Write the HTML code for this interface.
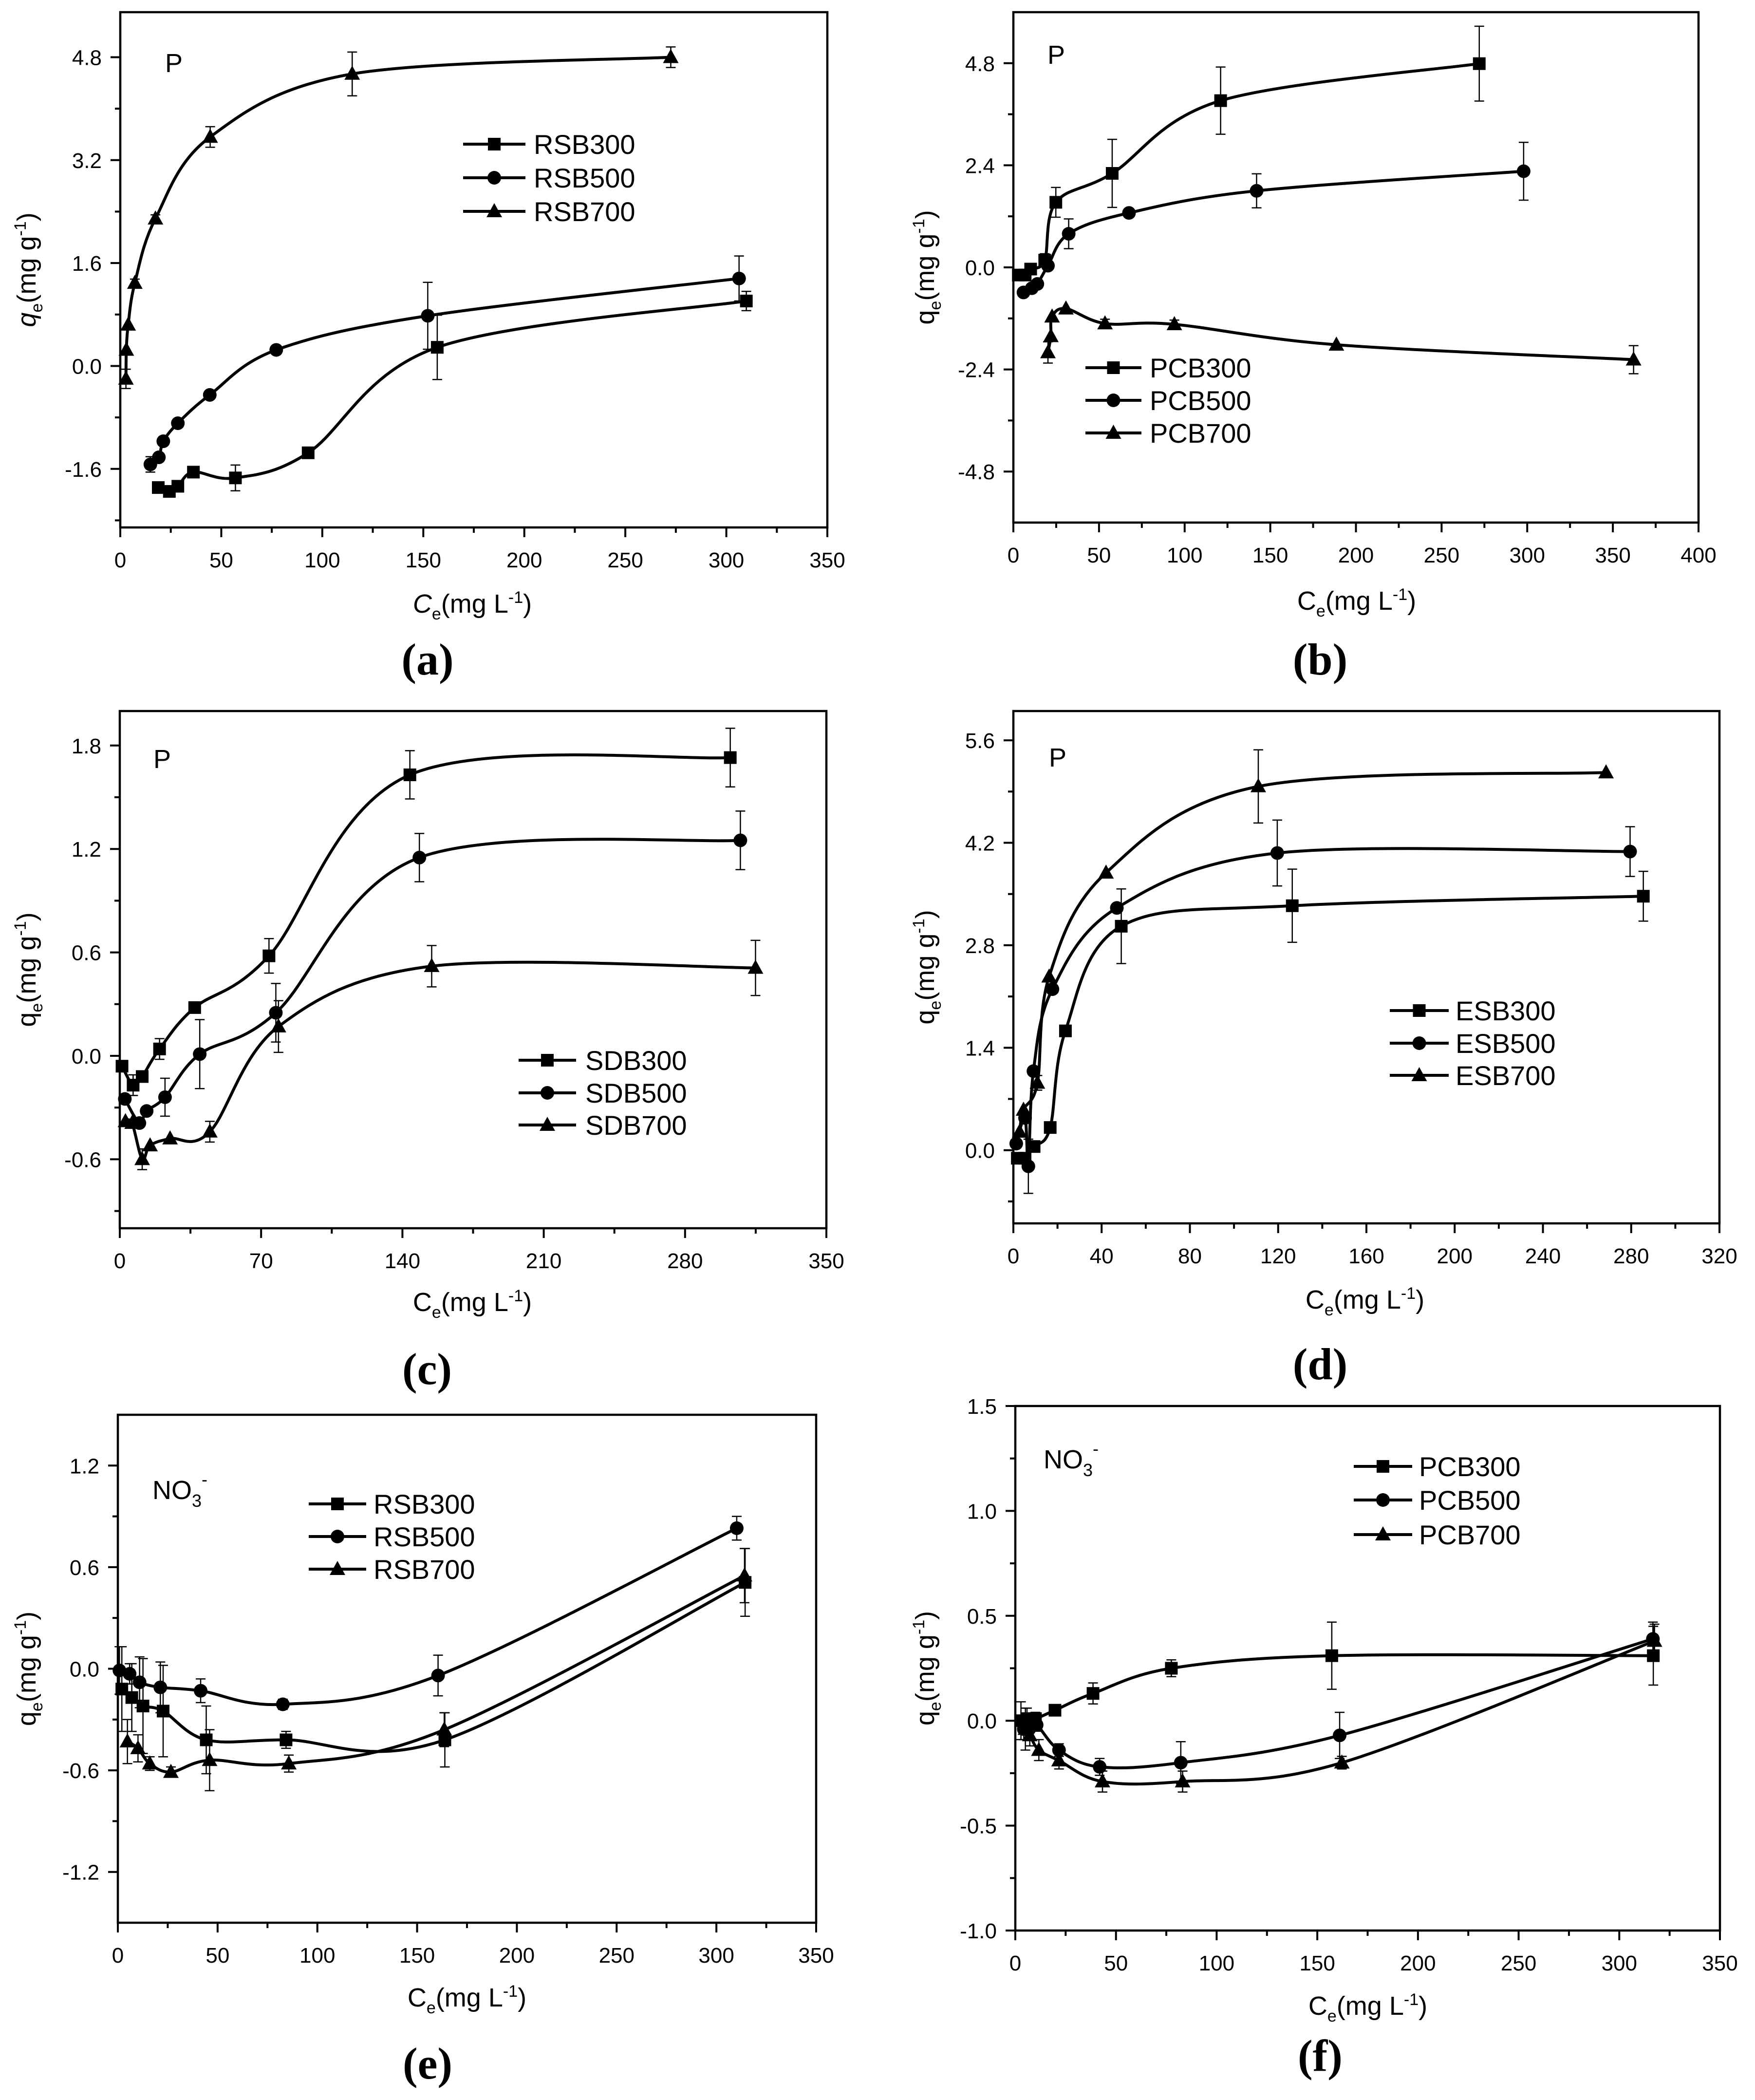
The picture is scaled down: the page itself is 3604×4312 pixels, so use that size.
<!DOCTYPE html>
<html><head><meta charset="utf-8"><style>
html,body{margin:0;padding:0;background:#fff;}
svg{display:block;font-family:"Liberation Sans",Arial,sans-serif;}
</style></head><body>
<svg id="fig" xmlns="http://www.w3.org/2000/svg" width="3604" height="4312" viewBox="0 0 3604 4312">
<rect x="0" y="0" width="3604" height="4312" fill="#fff"/>
</svg>
<script>
// ---------- DATA ----------
const aRSB300_x=[18.8,24.3,28.5,36.2,57,93,156.9,309.9];
const aRSB300_y=[-1.89,-1.95,-1.87,-1.65,-1.74,-1.35,0.29,1.01];
const aRSB300_e=[0,0,0,0,0.2,0,0.5,0.15];
const aRSB500_x=[14.9,19.1,21.3,28.5,44.3,77.2,152.2,306.3];
const aRSB500_y=[-1.53,-1.42,-1.17,-0.89,-0.45,0.25,0.78,1.36];
const aRSB500_e=[0.12,0,0,0,0,0,0.52,0.35];
const aRSB700_x=[2.8,3,3.9,7.2,17.4,44.5,114.8,272.5];
const aRSB700_y=[-0.2,0.25,0.64,1.29,2.29,3.56,4.54,4.8];
const aRSB700_e=[0.15,0,0,0.06,0.06,0.16,0.34,0.16];
const bPCB300_x=[2.9,6.9,10.1,18.3,24.8,57.7,121,272];
const bPCB300_y=[-0.18,-0.18,-0.04,0.17,1.53,2.21,3.92,4.79];
const bPCB300_e=[0,0,0,0.15,0.35,0.8,0.79,0.88];
const bPCB500_x=[5.9,10.8,14,20.2,32.3,67.5,142,297.9];
const bPCB500_y=[-0.59,-0.49,-0.39,0.04,0.79,1.28,1.8,2.26];
const bPCB500_e=[0,0,0,0,0.35,0,0.4,0.68];
const bPCB700_x=[20.2,21.9,22.6,30.7,53.5,94,188.6,362.1];
const bPCB700_y=[-2.0,-1.62,-1.16,-0.97,-1.32,-1.34,-1.82,-2.17];
const bPCB700_e=[0.25,0,0,0,0.1,0.1,0,0.33];
const cSDB300_x=[1.1,6.6,11.1,19.7,37.1,73.9,143.7,302.4];
const cSDB300_y=[-0.06,-0.17,-0.12,0.04,0.28,0.58,1.63,1.73];
const cSDB300_e=[0,0.06,0,0.06,0,0.1,0.14,0.17];
const cSDB500_x=[2.5,9.7,13.3,22.4,39.6,77.3,148.4,307.4];
const cSDB500_y=[-0.25,-0.39,-0.32,-0.24,0.01,0.25,1.15,1.25];
const cSDB500_e=[0,0,0,0.11,0.2,0.17,0.14,0.17];
const cSDB700_x=[2.8,6.1,11.1,15,24.9,44.6,78.6,154.5,314.9];
const cSDB700_y=[-0.38,-0.39,-0.6,-0.52,-0.48,-0.44,0.17,0.52,0.51];
const cSDB700_e=[0,0,0.06,0,0,0.06,0.15,0.12,0.16];
const dESB300_x=[1.8,5.3,9.4,16.7,23.6,48.9,126.4,285.5];
const dESB300_y=[-0.11,-0.11,0.05,0.31,1.63,3.06,3.34,3.47];
const dESB300_e=[0,0,0,0,0,0.51,0.5,0.34];
const dESB500_x=[1.3,5.3,6.8,9.1,17.7,46.9,119.6,279.5];
const dESB500_y=[0.09,0.44,-0.22,1.08,2.2,3.31,4.06,4.08];
const dESB500_e=[0,0,0.37,0,0,0,0.45,0.34];
const dESB700_x=[2.8,4.6,10.9,16.2,42,111,268.6];
const dESB700_y=[0.25,0.55,0.92,2.37,3.79,4.97,5.16];
const dESB700_e=[0,0,0.1,0,0,0.5,0];
const eRSB300_x=[2,7,12.6,22.7,44.3,84.3,163.9,314.4];
const eRSB300_y=[-0.12,-0.17,-0.22,-0.25,-0.42,-0.42,-0.42,0.51];
const eRSB300_e=[0.25,0.2,0.28,0.27,0.2,0.05,0.16,0.2];
const eRSB500_x=[0.8,5.9,10.9,21.3,41.5,82.7,160.5,310.2];
const eRSB500_y=[-0.01,-0.03,-0.08,-0.11,-0.13,-0.21,-0.04,0.83];
const eRSB500_e=[0.14,0.06,0.15,0.15,0.07,0.03,0.12,0.07];
const eRSB700_x=[4.8,10.1,16,26.6,46,85.7,163.6,314.1];
const eRSB700_y=[-0.43,-0.47,-0.56,-0.61,-0.54,-0.56,-0.36,0.55];
const eRSB700_e=[0.13,0.08,0.04,0.03,0.18,0.05,0.1,0.16];
const fPCB300_x=[2.8,5.8,10,19.7,38.6,77.5,157.2,316.9];
const fPCB300_y=[0,0.01,0.01,0.05,0.13,0.25,0.31,0.31];
const fPCB300_e=[0.09,0.05,0.03,0,0.05,0.04,0.16,0.14];
const fPCB500_x=[4.2,6.9,10.6,21.7,41.9,82.2,161.1,316.7];
const fPCB500_y=[-0.04,-0.04,-0.02,-0.14,-0.22,-0.2,-0.07,0.39];
const fPCB500_e=[0.05,0.05,0.03,0.03,0.04,0.1,0.11,0.08];
const fPCB700_x=[5,7.2,11.7,21.7,43.3,83.1,162.2,317.5];
const fPCB700_y=[-0.04,-0.07,-0.14,-0.19,-0.29,-0.29,-0.2,0.38];
const fPCB700_e=[0.1,0.05,0.05,0.04,0.05,0.05,0.03,0.08];

const aYTicks=[-1.6,0,1.6,3.2,4.8];
const bYTicks=[-4.8,-2.4,0,2.4,4.8];
const cYTicks=[-0.6,0,0.6,1.2,1.8];
const dYTicks=[0,1.4,2.8,4.2,5.6];
const eYTicks=[-1.2,-0.6,0,0.6,1.2];
const fYTicks=[-1.0,-0.5,0,0.5,1.0,1.5];
const aXTicks=[0,50,100,150,200,250,300,350];
const bXTicks=[0,50,100,150,200,250,300,350,400];
const cXTicks=[0,70,140,210,280,350];
const dXTicks=[0,40,80,120,160,200,240,280,320];

const NS="http://www.w3.org/2000/svg";
const svg=document.getElementById('fig');
function mk(tag,attrs,parent){const e=document.createElementNS(NS,tag);for(const k in attrs)e.setAttribute(k,attrs[k]);(parent||svg).appendChild(e);return e;}

const panels=[
 {id:'a',box:[247,25,1699,1083],x:[0,350],y:[-2.51,5.5],xt:aXTicks,xminor:25,yt:aYTicks,ystep:0.8,dec:1,
  italic:true,yTitleX:55,xTitle:[970,1240],lab:[878,1385,'(a)'],tag:[359,128,'P'],
  leg:{lx:951,rx:1079,tx:1096,ys:[296,365,434]},
  series:[['RSB300',aRSB300_x,aRSB300_y,aRSB300_e,'sq'],['RSB500',aRSB500_x,aRSB500_y,aRSB500_e,'ci'],['RSB700',aRSB700_x,aRSB700_y,aRSB700_e,'tr']]},
 {id:'b',box:[2081,25,3488,1073],x:[0,400],y:[-6,6],xt:bXTicks,xminor:25,yt:bYTicks,ystep:1.2,dec:1,
  italic:false,yTitleX:1900,xTitle:[2786,1234],lab:[2711,1385,'(b)'],tag:[2171,111,'P'],
  leg:{lx:2229,rx:2344,tx:2361,ys:[755,822,889]},
  series:[['PCB300',bPCB300_x,bPCB300_y,bPCB300_e,'sq'],['PCB500',bPCB500_x,bPCB500_y,bPCB500_e,'ci'],['PCB700',bPCB700_x,bPCB700_y,bPCB700_e,'tr']]},
 {id:'c',box:[246,1460,1697,2522],x:[0,350],y:[-1.0,2.0],xt:cXTicks,xminor:35,yt:cYTicks,ystep:0.3,dec:1,
  italic:false,yTitleX:55,xTitle:[970,2674],lab:[877,2842,'(c)'],tag:[335,1557,'P'],
  leg:{lx:1065,rx:1183,tx:1202,ys:[2177,2244,2310]},
  series:[['SDB300',cSDB300_x,cSDB300_y,cSDB300_e,'sq'],['SDB500',cSDB500_x,cSDB500_y,cSDB500_e,'ci'],['SDB700',cSDB700_x,cSDB700_y,cSDB700_e,'tr']]},
 {id:'d',box:[2081,1460,3531,2512],x:[0,320],y:[-1.0,6.0],xt:dXTicks,xminor:20,yt:dYTicks,ystep:0.7,dec:1,
  italic:false,yTitleX:1900,xTitle:[2803,2669],lab:[2711,2832,'(d)'],tag:[2174,1554,'P'],
  leg:{lx:2854,rx:2975,tx:2989,ys:[2075,2142,2208]},
  series:[['ESB300',dESB300_x,dESB300_y,dESB300_e,'sq'],['ESB500',dESB500_x,dESB500_y,dESB500_e,'ci'],['ESB700',dESB700_x,dESB700_y,dESB700_e,'tr']]},
 {id:'e',box:[242,2905,1676,3948],x:[0,350],y:[-1.5,1.5],xt:aXTicks,xminor:25,yt:eYTicks,ystep:0.3,dec:1,
  italic:false,yTitleX:55,xTitle:[959,4102],lab:[878,4268,'(e)'],tag:[333,3058,'NO'],
  leg:{lx:634,rx:752,tx:767,ys:[3088,3155,3222]},
  series:[['RSB300',eRSB300_x,eRSB300_y,eRSB300_e,'sq'],['RSB500',eRSB500_x,eRSB500_y,eRSB500_e,'ci'],['RSB700',eRSB700_x,eRSB700_y,eRSB700_e,'tr']]},
 {id:'f',box:[2085,2887,3532,3964],x:[0,350],y:[-1.0,1.5],xt:aXTicks,xminor:25,yt:fYTicks,ystep:0.25,dec:1,
  italic:false,yTitleX:1900,xTitle:[2809,4119],lab:[2711,4252,'(f)'],tag:[2163,2995,'NO'],
  leg:{lx:2780,rx:2900,tx:2914,ys:[3011,3080,3151]},
  series:[['PCB300',fPCB300_x,fPCB300_y,fPCB300_e,'sq'],['PCB500',fPCB500_x,fPCB500_y,fPCB500_e,'ci'],['PCB700',fPCB700_x,fPCB700_y,fPCB700_e,'tr']]}
];

function sx(p,v){return p.box[0]+(v-p.x[0])/(p.x[1]-p.x[0])*(p.box[2]-p.box[0]);}
function sy(p,v){return p.box[3]-(v-p.y[0])/(p.y[1]-p.y[0])*(p.box[3]-p.box[1]);}

function smoothPath(pts){
  let d='M'+pts[0][0].toFixed(1)+','+pts[0][1].toFixed(1);
  for(let i=0;i<pts.length-1;i++){
    const p0=pts[i-1]||pts[i],p1=pts[i],p2=pts[i+1],p3=pts[i+2]||pts[i+1];
    const c1=[p1[0]+(p2[0]-p0[0])/6,p1[1]+(p2[1]-p0[1])/6];
    const c2=[p2[0]-(p3[0]-p1[0])/6,p2[1]-(p3[1]-p1[1])/6];
    d+=' C'+c1[0].toFixed(1)+','+c1[1].toFixed(1)+' '+c2[0].toFixed(1)+','+c2[1].toFixed(1)+' '+p2[0].toFixed(1)+','+p2[1].toFixed(1);
  }
  return d;
}

function marker(g,type,cx,cy){
  let m;
  if(type==='sq') m=mk('rect',{x:cx-13,y:cy-13,width:26,height:26,fill:'#000'},g);
  else if(type==='ci') m=mk('circle',{cx:cx,cy:cy,r:14,fill:'#000'},g);
  else m=mk('polygon',{points:(cx)+','+(cy-17)+' '+(cx+16)+','+(cy+12)+' '+(cx-16)+','+(cy+12),fill:'#000'},g);
  return m;
}

function fmt(v,dec){return v.toFixed(dec);}

panels.forEach(p=>{
  const g=mk('g',{});
  
  
  const [l,t,r,b]=p.box;
  const tg=mk('g',{stroke:'#000','stroke-width':4},g);
  p.xt.forEach(v=>{
    const x=sx(p,v);
    const tk=mk('line',{x1:x,y1:b,x2:x,y2:b+20},tg);
    
    
    const tx=mk('text',{x:x,y:b+82,'font-size':44,'text-anchor':'middle',stroke:'none',fill:'#000'},g);
    tx.textContent=String(v);
    
    
  });
  for(let v=p.x[0]+p.xminor;v<p.x[1];v+=p.xminor*2){
    const x=sx(p,v);
    mk('line',{x1:x,y1:b,x2:x,y2:b+11},tg);
  }
  p.yt.forEach(v=>{
    const y=sy(p,v);
    const tk=mk('line',{x1:l-20,y1:y,x2:l,y2:y},tg);
    
    
    const tx=mk('text',{x:l-38,y:y+16,'font-size':44,'text-anchor':'end',stroke:'none',fill:'#000'},g);
    tx.textContent=fmt(v,p.dec);
    
    
  });
  const k0=Math.ceil(p.y[0]/p.ystep+1e-6),k1=Math.floor(p.y[1]/p.ystep-1e-6);
  for(let k=k0;k<=k1;k++){
    const v=k*p.ystep;
    if(p.yt.some(m=>Math.abs(m-v)<1e-6))continue;
    const y=sy(p,v);
    mk('line',{x1:l-11,y1:y,x2:l,y2:y},tg);
  }
  const fr=mk('rect',{x:l,y:t,width:r-l,height:b-t,fill:'none',stroke:'#000','stroke-width':4.5},g);
  
  
  const xt=mk('text',{x:p.xTitle[0],y:p.xTitle[1]+18,'font-size':54,'text-anchor':'middle',fill:'#000'},g);
  
  
  xt.innerHTML=(p.italic?'<tspan font-style="italic">C</tspan>':'C')+'<tspan font-size="34" dy="14">e</tspan><tspan dy="-14">(mg L</tspan><tspan font-size="34" dy="-20">-1</tspan><tspan dy="20">)</tspan>';
  const cy=(t+b)/2;
  const yt=mk('text',{x:0,y:0,'font-size':54,'text-anchor':'middle',fill:'#000',transform:'translate('+(p.yTitleX+18)+','+cy+') rotate(-90)'},g);
  
  
  yt.innerHTML=(p.italic?'<tspan font-style="italic">q</tspan>':'q')+'<tspan font-size="34" dy="14">e</tspan><tspan dy="-14">(mg g</tspan><tspan font-size="34" dy="-20">-1</tspan><tspan dy="20">)</tspan>';
  const lb=mk('text',{x:p.lab[0],y:p.lab[1],'font-size':92,'font-weight':'bold','text-anchor':'middle','font-family':'"Liberation Serif",serif',fill:'#000'},g);
  lb.textContent=p.lab[2];
  
  
  const tg2=mk('text',{x:p.tag[0]-20,y:p.tag[1]+20,'font-size':54,fill:'#000'},g);
  
  
  if(p.tag[2]==='P') tg2.textContent='P';
  else tg2.innerHTML='NO<tspan font-size="36" dy="16">3</tspan><tspan font-size="36" dy="-44">-</tspan>';
  const clip=mk('clipPath',{id:'clip'+p.id},g);
  mk('rect',{x:l,y:t,width:r-l,height:b-t},clip);
  p.series.forEach((s,si)=>{
    const [name,xs,ys,es,type]=s;
    const sg=mk('g',{},g);
    
    
    const idx=xs.map((_,i)=>i).sort((a,b2)=>xs[a]-xs[b2]);
    const pts=idx.map(i=>[sx(p,xs[i]),sy(p,ys[i])]);
    const path=mk('path',{d:smoothPath(pts),fill:'none',stroke:'#000','stroke-width':6,'clip-path':'url(#clip'+p.id+')'},sg);
    
    
    xs.forEach((xv,i)=>{
      const X=sx(p,xv),Y=sy(p,ys[i]);
      if(es[i]>0){
        const y1=sy(p,ys[i]+es[i]),y2=sy(p,ys[i]-es[i]);
        const eb=mk('path',{d:'M'+X+','+y1+' V'+y2+' M'+(X-10)+','+y1+' H'+(X+10)+' M'+(X-10)+','+y2+' H'+(X+10),stroke:'#000','stroke-width':2.5,fill:'none'},sg);
        
        
      }
      const m=marker(sg,type,X,Y);
      
      
    });
    const ly=p.leg.ys[si];
    const lg=mk('g',{},g);
    
    
    mk('line',{x1:p.leg.lx,y1:ly,x2:p.leg.rx,y2:ly,stroke:'#000','stroke-width':6},lg);
    marker(lg,type,(p.leg.lx+p.leg.rx)/2,ly);
    const lt=mk('text',{x:p.leg.tx,y:ly+20,'font-size':56,fill:'#000'},lg);
    lt.textContent=name;
  });
});
</script>
</body></html>
